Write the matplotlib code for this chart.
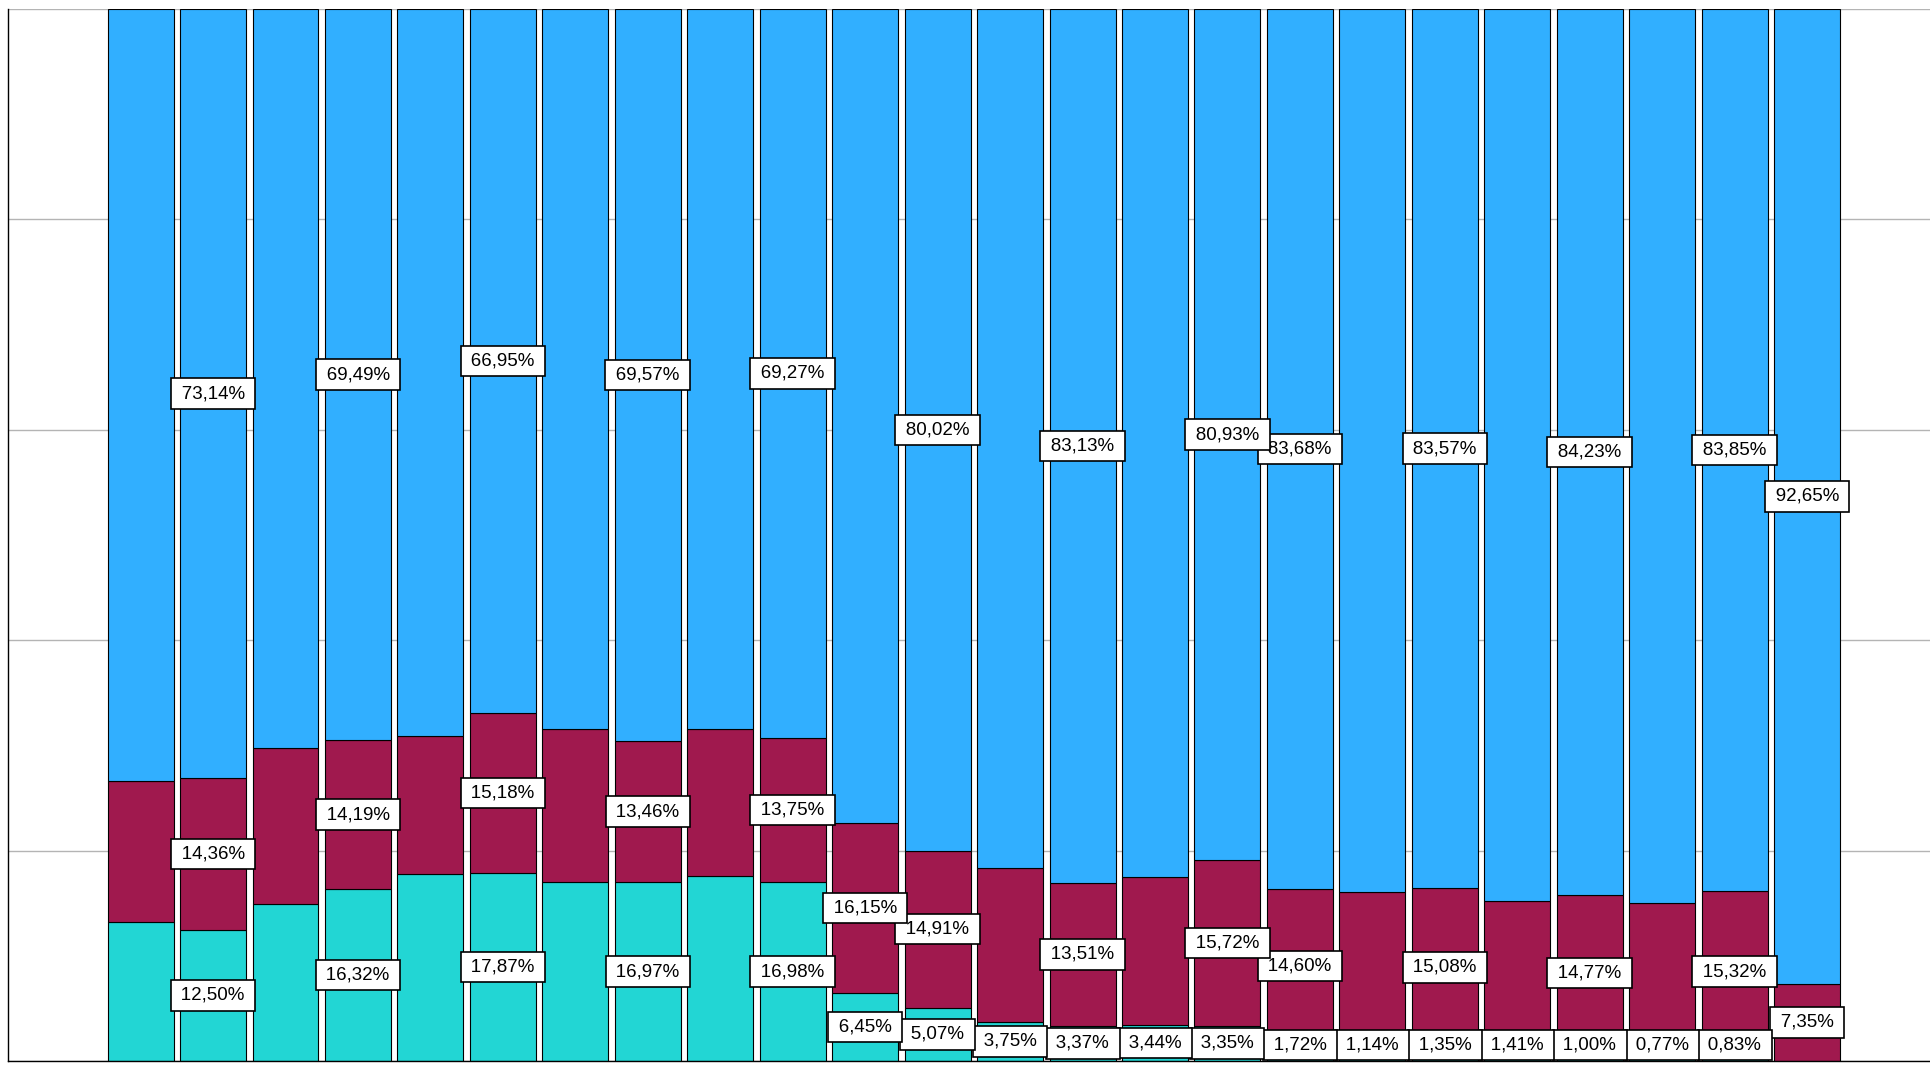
import numpy as np
import matplotlib
matplotlib.use("Agg")
import matplotlib.pyplot as plt

plt.rcParams['font.family'] = ['Liberation Sans', 'DejaVu Sans']

# share of each bar (percent), bottom to top
bottom_part = [13.24, 12.50, 14.95, 16.32, 17.80, 17.87, 17.05, 16.97, 17.61, 16.98,
               6.45, 5.07, 3.75, 3.37, 3.44, 3.35, 1.72, 1.14, 1.35, 1.41,
               1.00, 0.77, 0.83, 0.00]
middle_part = [13.35, 14.36, 14.80, 14.19, 13.09, 15.18, 14.54, 13.46, 13.98, 13.75,
               16.15, 14.91, 14.57, 13.51, 14.02, 15.72, 14.60, 14.89, 15.08, 13.83,
               14.77, 14.22, 15.32, 7.35]
top_part = [73.41, 73.14, 70.25, 69.49, 69.11, 66.95, 68.41, 69.57, 68.41, 69.27,
            77.40, 80.02, 81.68, 83.13, 82.54, 80.93, 83.68, 83.97, 83.57, 84.76,
            84.23, 85.01, 83.85, 92.65]

# which bars carry a visible value label in each segment
top_labelled = [1, 3, 5, 7, 9, 11, 13, 15, 16, 18, 20, 22, 23]
middle_labelled = [1, 3, 5, 7, 9, 10, 11, 13, 15, 16, 18, 20, 22, 23]
bottom_labelled = [1, 3, 5, 7, 9] + list(range(10, 23))

c_bottom = '#22d6d4'
c_middle = '#a0194e'
c_top = '#31afff'

fig = plt.figure(figsize=(19.31, 10.67), dpi=100)
ax = fig.add_axes([8 / 1931, 6 / 1067, 1 - 8 / 1931, 1052 / 1067])

x = np.arange(len(top_part))
b = np.array(bottom_part)
m = np.array(middle_part)
t = np.array(top_part)
w = 0.91

ax.bar(x, b, w, color=c_bottom, edgecolor='black', linewidth=0.8, zorder=2)
ax.bar(x, m, w, bottom=b, color=c_middle, edgecolor='black', linewidth=0.8, zorder=2)
ax.bar(x, t, w, bottom=b + m, color=c_top, edgecolor='black', linewidth=0.8, zorder=2)


def fmt(v):
    return '\u2009' + '{0:.2f}'.format(v).replace('.', ',') + '%\u2009'


def put_label(i, start, size):
    y = max(start + size / 2, 1.5)
    ax.text(x[i], y, fmt(size), ha='center', va='center', fontsize=13.5,
            color='black', zorder=100 - i,
            bbox=dict(boxstyle='square,pad=0.36', facecolor='white',
                      edgecolor='black', linewidth=1.2))


for i in bottom_labelled:
    put_label(i, 0, b[i])
for i in middle_labelled:
    put_label(i, b[i], m[i])
for i in top_labelled:
    put_label(i, b[i] + m[i], t[i])

ax.set_xlim(-1.83, 24.71)
ax.set_ylim(0, 100)
ax.set_xticks([])
ax.set_yticks(np.arange(0, 101, 20))
ax.tick_params(length=0, labelleft=False)
ax.yaxis.grid(True, color='#b4b4b4', linewidth=1.0, zorder=0)
ax.set_axisbelow(True)
ax.spines['top'].set_visible(False)
ax.spines['right'].set_visible(False)
ax.spines['left'].set_linewidth(1.0)
ax.spines['bottom'].set_linewidth(1.0)

fig.savefig('out.png', dpi=100)
